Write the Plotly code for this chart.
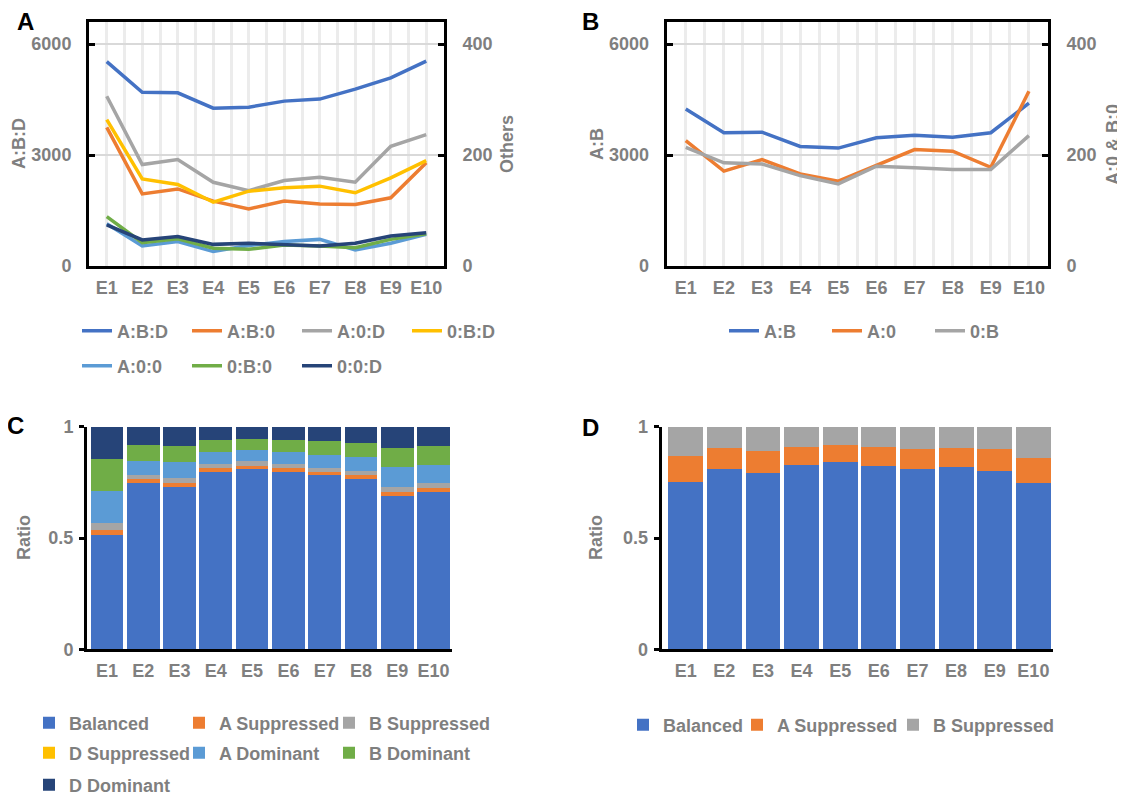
import plotly.graph_objects as go

# page body has an 8px margin: the figure is placed at (8, 8) in the 1125x795 window
OX, OY = 8, 8
W, H = 1125 - OX, 795 - OY

categories = ["E1", "E2", "E3", "E4", "E5", "E6", "E7", "E8", "E9", "E10"]
idx = list(range(len(categories)))

# ---- Panel A : numbers of genes per triad pattern ----
a_ABD = [5530, 4700, 4685, 4270, 4295, 4460, 4515, 4785, 5090, 5540]   # left axis
a_AB0 = [250, 130, 139, 117, 103, 117, 112, 111, 123, 186]             # right axis (Others)
a_A0D = [306, 183, 192, 151, 136, 154, 160, 151, 216, 237]
a_0BD = [264, 157, 147, 115, 135, 141, 144, 132, 159, 190]
a_A00 = [76, 36, 44, 26, 37, 44, 48, 29, 41, 57]
a_0B0 = [89, 42, 49, 32, 30, 38, 36, 33, 48, 58]
a_00D = [74, 47, 53, 39, 41, 38, 36, 41, 54, 60]

# ---- Panel B ----
b_AB = [4245, 3605, 3620, 3235, 3190, 3470, 3540, 3485, 3605, 4405]   # left axis
b_A0 = [226, 171, 192, 166, 153, 181, 210, 207, 178, 315]             # right axis
b_0B = [214, 186, 184, 163, 148, 180, 177, 174, 174, 235]

# ---- Panel C : ratios ----
c_bal = [0.513, 0.748, 0.731, 0.798, 0.810, 0.798, 0.783, 0.765, 0.689, 0.708]
c_asup = [0.023, 0.016, 0.017, 0.015, 0.015, 0.015, 0.012, 0.018, 0.019, 0.015]
c_bsup = [0.033, 0.019, 0.022, 0.020, 0.019, 0.020, 0.018, 0.020, 0.020, 0.022]
c_dsup = [0, 0, 0, 0, 0, 0, 0, 0, 0, 0]
c_adom = [0.140, 0.065, 0.072, 0.054, 0.050, 0.054, 0.062, 0.061, 0.091, 0.083]
c_bdom = [0.144, 0.071, 0.072, 0.052, 0.050, 0.055, 0.061, 0.065, 0.086, 0.084]
c_ddom = [0.145, 0.079, 0.084, 0.060, 0.055, 0.057, 0.063, 0.070, 0.094, 0.087]

# ---- Panel D : ratios ----
d_bal = [0.750, 0.809, 0.794, 0.829, 0.840, 0.823, 0.809, 0.820, 0.802, 0.746]
d_asup = [0.120, 0.094, 0.097, 0.082, 0.077, 0.085, 0.090, 0.085, 0.097, 0.115]
d_bsup = [0.130, 0.097, 0.109, 0.089, 0.083, 0.092, 0.101, 0.095, 0.101, 0.139]

BLUE, ORANGE, GRAY, YELLOW = "#4472C4", "#ED7D31", "#A5A5A5", "#FFC000"
LBLUE, GREEN, NAVY = "#5B9BD5", "#70AD47", "#264478"
TXT = "#7f7f7f"
FAM = "Liberation Sans, Arial, sans-serif"


def fnt(size=18, color=TXT):
    return dict(family=FAM, size=size, color=color, weight="bold")


def px(x):
    return (x - OX) / W


def py(y):
    return 1 - (y - OY) / H


fig = go.Figure()

LW = 3.5
# Panel A
fig.add_trace(go.Scatter(x=idx, y=a_ABD, name="A:B:D", mode="lines", line=dict(color=BLUE, width=LW),
                         xaxis="x", yaxis="y", legend="legend"))
for vals, name, col, leg in [(a_AB0, "A:B:0", ORANGE, "legend"), (a_A0D, "A:0:D", GRAY, "legend"),
                             (a_0BD, "0:B:D", YELLOW, "legend"), (a_A00, "A:0:0", LBLUE, "legend2"),
                             (a_0B0, "0:B:0", GREEN, "legend2"), (a_00D, "0:0:D", NAVY, "legend2")]:
    fig.add_trace(go.Scatter(x=idx, y=vals, name=name, mode="lines", line=dict(color=col, width=LW),
                             xaxis="x", yaxis="y2", legend=leg))

# Panel B
fig.add_trace(go.Scatter(x=idx, y=b_AB, name="A:B", mode="lines", line=dict(color=BLUE, width=LW),
                         xaxis="x2", yaxis="y3", legend="legend3"))
fig.add_trace(go.Scatter(x=idx, y=b_A0, name="A:0", mode="lines", line=dict(color=ORANGE, width=LW),
                         xaxis="x2", yaxis="y4", legend="legend3"))
fig.add_trace(go.Scatter(x=idx, y=b_0B, name="0:B", mode="lines", line=dict(color=GRAY, width=LW),
                         xaxis="x2", yaxis="y4", legend="legend3"))

# Panel C
for vals, name, col, leg, lw in [(c_bal, "Balanced", BLUE, "legend4", 105),
                                 (c_asup, "A Suppressed", ORANGE, "legend4", 105),
                                 (c_bsup, "B Suppressed", GRAY, "legend4", 140),
                                 (c_dsup, "D Suppressed", YELLOW, "legend5", 105),
                                 (c_adom, "A Dominant", LBLUE, "legend5", 105),
                                 (c_bdom, "B Dominant", GREEN, "legend5", 140),
                                 (c_ddom, "D Dominant", NAVY, "legend6", 140)]:
    fig.add_trace(go.Bar(x=categories, y=vals, name=name, marker=dict(color=col, line=dict(width=0)),
                         xaxis="x3", yaxis="y5", legend=leg, legendwidth=lw))

# Panel D
for vals, name, col, leg in [(d_bal, "Balanced", BLUE, "legend7"), (d_asup, "A Suppressed", ORANGE, "legend8"),
                             (d_bsup, "B Suppressed", GRAY, "legend9")]:
    fig.add_trace(go.Bar(x=categories, y=vals, name=name, marker=dict(color=col, line=dict(width=0)),
                         xaxis="x4", yaxis="y6", legend=leg))

TOPY = [py(266), py(22)]
BOTY = [py(649.3), py(426.7)]

# grid positions: every category plus the half-way boundaries
grid_vals = sorted(idx + [i + 0.5 for i in idx[:-1]])
grid_text = [categories[int(v)] if float(v).is_integer() else "" for v in grid_vals]


def line_x(domain, anchor):
    return dict(domain=domain, anchor=anchor, range=[-0.5, 9.5], tickmode="array", tickvals=grid_vals,
                ticktext=grid_text, showline=True, linecolor="black", linewidth=3, mirror=True,
                ticks="", showgrid=True, gridcolor="#ececec", gridwidth=3, zeroline=False,
                tickfont=fnt(18), ticklabelstandoff=3, layer="above traces")


def left_y(anchor):
    return dict(domain=TOPY, anchor=anchor, range=[0, 6600], tickmode="array", tickvals=[0, 3000, 6000],
                showline=True, linecolor="black", linewidth=3, ticks="inside", ticklen=6, tickwidth=3,
                tickcolor="black", showgrid=True, gridcolor="#d9d9d9", gridwidth=2, zeroline=False,
                tickfont=fnt(18), ticklabelstandoff=11, automargin=False, layer="above traces")


def right_y(anchor, overlay):
    return dict(overlaying=overlay, side="right", anchor=anchor, range=[0, 440], tickmode="array",
                tickvals=[0, 200, 400], showline=True, linecolor="black", linewidth=3, ticks="inside",
                ticklen=6, tickwidth=3, tickcolor="black", showgrid=False, zeroline=False,
                tickfont=fnt(18), ticklabelstandoff=12, automargin=False, layer="above traces")


def bar_x(domain, anchor, lo):
    return dict(domain=domain, anchor=anchor, type="category", categoryorder="array",
                categoryarray=categories, range=[lo, 9.5], showline=True, linecolor="black", linewidth=3,
                ticks="", showgrid=False, zeroline=False, tickfont=fnt(18), ticklabelstandoff=3)


def bar_y(domain, anchor):
    return dict(domain=domain, anchor=anchor, range=[0, 1], tickmode="array", tickvals=[0, 0.5, 1],
                ticktext=["0", "0.5", "1"], showline=True, linecolor="black", linewidth=3, ticks="outside",
                ticklen=5, tickwidth=3, tickcolor="black", showgrid=False, zeroline=False,
                tickfont=fnt(18), ticklabelstandoff=2, automargin=False)


def leg(x, y, ew=0):
    d = dict(x=px(x), y=py(y), xanchor="left", yanchor="middle", orientation="h", font=fnt(18),
             bgcolor="rgba(0,0,0,0)", borderwidth=0, traceorder="normal", tracegroupgap=0)
    if ew:
        d["entrywidth"] = ew
        d["entrywidthmode"] = "pixels"
    return d


annotations = []
for txt, x, y in [("A", 25, 22), ("B", 590, 22), ("C", 15, 425), ("D", 590, 427)]:
    annotations.append(dict(text=txt, x=px(x), y=py(y), xref="paper", yref="paper", showarrow=False,
                            xanchor="center", yanchor="middle", font=fnt(24, "black")))
for txt, x, y in [("A:B:D", 19, 144), ("Others", 507, 144), ("A:B", 597, 144), ("A:0 & B:0", 1113, 145),
                  ("Ratio", 24, 538), ("Ratio", 596, 538)]:
    annotations.append(dict(text=txt, x=px(x), y=py(y), xref="paper", yref="paper", showarrow=False,
                            textangle=-90, xanchor="center", yanchor="middle", font=fnt(18)))

fig.update_layout(
    width=W, height=H, margin=dict(l=0, r=0, t=0, b=0, autoexpand=False), autosize=False,
    paper_bgcolor="white", plot_bgcolor="white",
    barmode="stack", bargap=0.1,
    font=fnt(18),
    xaxis=line_x([px(89), px(444)], "y"),
    yaxis=left_y("x"),
    yaxis2=right_y("x", "y"),
    xaxis2=line_x([px(666.7), px(1048)], "y3"),
    yaxis3=left_y("x2"),
    yaxis4=right_y("x2", "y3"),
    xaxis3=bar_x([px(87), px(451.7)], "y5", -0.55),
    yaxis5=bar_y(BOTY, "x3"),
    xaxis4=bar_x([px(661.7), px(1052.7)], "y6", -0.62),
    yaxis6=bar_y(BOTY, "x4"),
    legend=leg(77, 331, 65),
    legend2=leg(77, 366, 65),
    legend3=leg(724, 331, 58),
    legend4=leg(29, 723),
    legend5=leg(29, 753),
    legend6=leg(29, 785),
    legend7=leg(623, 725),
    legend8=leg(737, 725),
    legend9=leg(893, 725),
    annotations=annotations,
    showlegend=True,
)

fig.write_html("out.html")
